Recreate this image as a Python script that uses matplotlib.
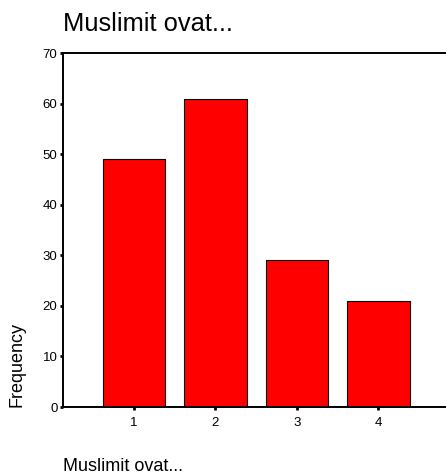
import matplotlib.pyplot as plt

plt.rcParams['font.family'] = ['Liberation Sans', 'DejaVu Sans']

categories = [1, 2, 3, 4]
frequencies = [49, 61, 29, 21]
y_ticks = [0, 10, 20, 30, 40, 50, 60, 70]

fig = plt.figure(figsize=(4.46, 4.74), dpi=100)
ax = fig.add_axes([63 / 446, 67 / 474, 1 - 63 / 446, 354 / 474])

ax.bar(categories, frequencies, width=0.77, color='#ff0000', edgecolor='black', linewidth=0.8)

ax.set_xlim(0.13, 4.83)
ax.set_ylim(0, 70)
ax.set_xticks(categories)
ax.set_xticklabels([str(c) for c in categories])
ax.set_yticks(y_ticks)

for side in ['left', 'bottom', 'top']:
    ax.spines[side].set_linewidth(1.4)
ax.spines['right'].set_visible(False)

ax.tick_params(axis='both', direction='out', length=2, width=2, labelsize=9.5)
ax.tick_params(axis='x', pad=5)
ax.tick_params(axis='y', pad=2)

fig.text(63 / 446, (474 - 31) / 474, 'Muslimit ovat...', fontsize=18.4, ha='left', va='baseline')
fig.text(63 / 446, (474 - 471) / 474, 'Muslimit ovat...', fontsize=13, ha='left', va='baseline')
fig.text(17 / 446, 67 / 474, 'Frequency', fontsize=13, rotation=90, ha='center', va='bottom')

fig.savefig('out.png', dpi=100)
